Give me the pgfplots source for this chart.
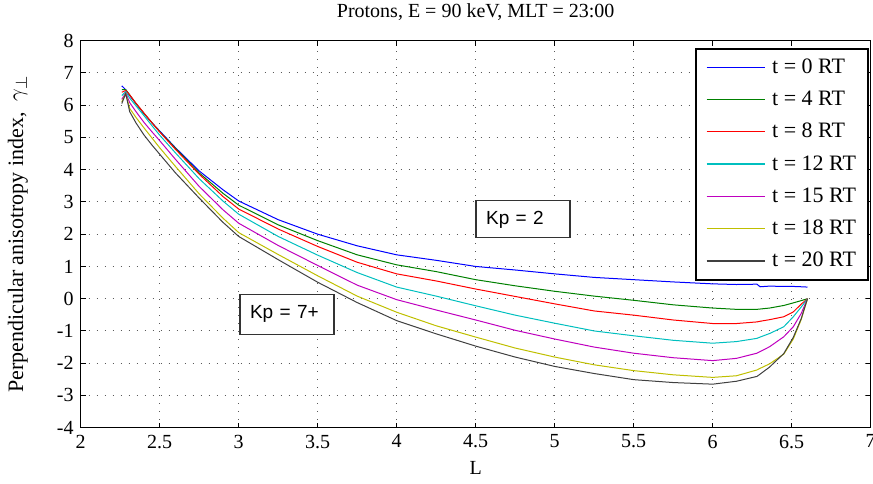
\documentclass[border=0pt]{standalone}
\usepackage{fontspec}
\setmainfont{Liberation Serif}
\newfontfamily\helv{Liberation Sans}
\usepackage{pgfplots}
\usepackage{pgfplotstable}
\pgfplotsset{compat=1.18}

\definecolor{mblue}{rgb}{0,0,1}
\definecolor{mgreen}{rgb}{0,0.5,0}
\definecolor{mred}{rgb}{1,0,0}
\definecolor{mcyan}{rgb}{0,0.75,0.75}
\definecolor{mmagenta}{rgb}{0.75,0,0.75}
\definecolor{myellow}{rgb}{0.75,0.75,0}
\definecolor{mblack}{rgb}{0.25,0.25,0.25}

% gamma_perp vs L, one column per time step
\pgfplotstableread{
L     t0    t4     t8     t12    t15    t18    t20
2.26  6.60  6.48   6.40   6.30   6.18   6.10   6.05
2.285 6.48  6.48   6.46   6.42   6.38   6.36   6.36
2.31  6.30  6.32   6.32   6.22   6.08   5.90   5.80
2.35  6.05  6.05   6.06   5.98   5.80   5.62   5.45
2.40  5.74  5.75   5.76   5.68   5.47   5.30   5.08
2.45  5.46  5.46   5.46   5.37   5.18   4.99   4.77
2.50  5.20  5.18   5.17   5.07   4.90   4.68   4.48
2.60  4.68  4.66   4.63   4.52   4.32   4.10   3.90
2.75  3.96  3.90   3.86   3.72   3.48   3.25   3.12
2.90  3.38  3.27   3.17   3.03   2.76   2.50   2.37
3.00  3.03  2.90   2.78   2.62   2.34   2.05   1.93
3.25  2.45  2.29   2.16   1.93   1.65   1.37   1.21
3.50  2.00  1.80   1.62   1.35   1.03   0.71   0.51
3.75  1.64  1.36   1.13   0.81   0.42   0.08  -0.12
4.00  1.36  1.05   0.77   0.36  -0.03  -0.42  -0.68
4.25  1.19  0.84   0.55   0.08  -0.35  -0.84  -1.09
4.50  1.00  0.59   0.30  -0.22  -0.66  -1.19  -1.47
4.75  0.89  0.40   0.07  -0.51  -0.98  -1.53  -1.81
5.00  0.77  0.23  -0.16  -0.76  -1.25  -1.81  -2.10
5.25  0.66  0.08  -0.38  -1.00  -1.50  -2.05  -2.32
5.50  0.59 -0.05  -0.51  -1.15  -1.69  -2.23  -2.51
5.75  0.52 -0.19  -0.66  -1.29  -1.83  -2.36  -2.60
6.00  0.46 -0.29  -0.77  -1.38  -1.92  -2.44  -2.65
6.15  0.44 -0.33  -0.77  -1.33  -1.85  -2.39  -2.56
6.28  0.45 -0.33  -0.72  -1.23  -1.69  -2.21  -2.41
6.30  0.37 -0.32  -0.70  -1.19  -1.64  -2.16  -2.34
6.36  0.39 -0.29  -0.65  -1.08  -1.49  -2.02  -2.12
6.45  0.38 -0.21  -0.56  -0.87  -1.18  -1.72  -1.70
6.51  0.38 -0.13  -0.41  -0.56  -0.87  -1.25  -1.20
6.56  0.37 -0.06  -0.17  -0.26  -0.46  -0.65  -0.62
6.60  0.36  0.00   0.00   0.00   0.00   0.00   0.00
}\gammadata

\begin{document}
\begin{tikzpicture}
\begin{axis}[
  name=ax,
  scale only axis,
  width=395pt, height=193.5pt,
  xmin=2, xmax=7, ymin=-4, ymax=8,
  xtick={2,2.5,3,3.5,4,4.5,5,5.5,6,6.5,7},
  ytick={-4,-3,-2,-1,0,1,2,3,4,5,6,7,8},
  /pgf/number format/assume math mode=true,
  tick label style={font=\fontsize{10}{12}\selectfont},
  tick align=inside,
  major tick length=2.5pt,
  every tick/.style={black,line width=0.5pt},
  axis line style={line width=0.75pt},
  grid=major,
  major grid style={black!65,line width=0.5pt,dash pattern=on 0.5pt off 3.5pt},
  xlabel={L},
  xlabel style={font=\fontsize{10}{12}\selectfont,at={(axis description cs:0.5,-0.1041)},anchor=center},
  ylabel={Perpendicular anisotropy index,\ \ $\gamma_{\perp}$},
  ylabel style={font=\fontsize{11}{13}\selectfont,at={(axis description cs:-0.0794,0.5)},anchor=center},
  legend cell align=left,
  legend image code/.code={\draw[line width=0.6pt,#1] (0pt,0.25pt) -- (29pt,0.25pt);},
  legend style={at={(axis description cs:0.9975,0.980)},anchor=north east,
    draw=black,line width=0.75pt,fill=white,
    font=\fontsize{11}{13}\selectfont,
    inner xsep=5pt,inner ysep=3pt,row sep=3.65pt,column sep=2.5pt,
    nodes={inner sep=1pt,text height=8pt,text depth=2.5pt}},
  every axis plot/.append style={line width=0.5pt},
]
\addplot[mblue] table[x=L,y=t0] {\gammadata};
\addplot[mgreen] table[x=L,y=t4] {\gammadata};
\addplot[mred] table[x=L,y=t8] {\gammadata};
\addplot[mcyan] table[x=L,y=t12] {\gammadata};
\addplot[mmagenta] table[x=L,y=t15] {\gammadata};
\addplot[myellow] table[x=L,y=t18] {\gammadata};
\addplot[mblack] table[x=L,y=t20] {\gammadata};
\legend{t = 0 RT,t = 4 RT,t = 8 RT,t = 12 RT,t = 15 RT,t = 18 RT,t = 20 RT}

\node[draw=black!80,line width=0.6pt,fill=white,font=\helv\fontsize{9.5}{11}\selectfont,
  text width=37pt,align=left,inner xsep=5pt,minimum height=18.5pt]
  at (axis cs:4.80,2.46) {Kp = 2};
\node[draw=black!80,line width=0.6pt,fill=white,font=\helv\fontsize{9.5}{11}\selectfont,
  text width=37pt,align=left,inner xsep=5pt,minimum height=20pt]
  at (axis cs:3.306,-0.48) {Kp = 7+};
\end{axis}
\node[font=\fontsize{10}{12}\selectfont,anchor=center,inner sep=0pt]
  at ([yshift=14.35pt]ax.north) {Protons, E = 90 keV, MLT = 23:00};
\pgfresetboundingbox
\path[use as bounding box] ([xshift=-40.35pt,yshift=-27.65pt]ax.south west)
  rectangle ([xshift=1.15pt,yshift=20.35pt]ax.north east);
\end{tikzpicture}
\end{document}
